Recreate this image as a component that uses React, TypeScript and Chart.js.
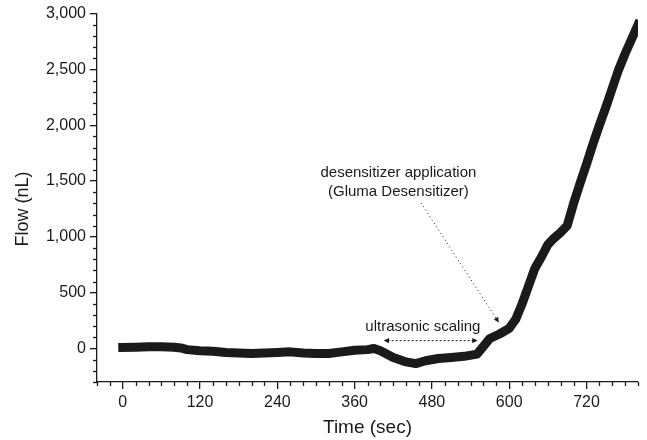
import React, { useEffect, useRef } from "react";
import { Chart, registerables } from "chart.js";

Chart.register(...registerables);

const times = [0, 20, 40, 60, 80, 90, 100, 120, 140, 160, 180, 200, 220, 240, 260, 280, 300, 320, 340, 360, 380, 390, 400, 420, 440, 455, 470, 490, 510, 530, 550, 560, 570, 585, 600, 610, 620, 630, 640, 650, 660, 670, 680, 690, 700, 710, 720, 730, 740, 750, 760, 770, 780, 790, 800];
const flow = [10, 12, 15, 15, 12, 5, -10, -20, -25, -35, -40, -45, -40, -35, -30, -40, -45, -45, -30, -15, -10, 0, -20, -80, -120, -135, -110, -90, -80, -70, -50, 20, 90, 130, 180, 260, 400, 560, 720, 820, 930, 990, 1040, 1100, 1300, 1480, 1650, 1830, 2000, 2160, 2330, 2500, 2640, 2770, 2900];

const xMajorTicks = [0, 120, 240, 360, 480, 600, 720];
const yMajorTicks = [0, 500, 1000, 1500, 2000, 2500, 3000];
const xRange = [-40, 800];
const yRange = [-300, 3000];

const yTitle = { text: "Flow (nL)", value: 1250 };
const annoScaling = { text: "ultrasonic scaling", x: 466, y: 196, arrowFrom: 405, arrowTo: 551, arrowY: 71 };
const annoDesens = { lines: ["desensitizer application", "(Gluma Desensitizer)"], x: 428, y: [1571, 1402], from: [463, 1304], to: [584, 232] };

const FONT = "'Liberation Sans', Arial, sans-serif";
const INK = "#1a1a1a";

function arrowHead(ctx: CanvasRenderingContext2D, x1: number, y1: number, x2: number, y2: number, size: number) {
  const a = Math.atan2(y2 - y1, x2 - x1);
  ctx.beginPath();
  ctx.moveTo(x2, y2);
  ctx.lineTo(x2 - size * Math.cos(a - 0.45), y2 - size * Math.sin(a - 0.45));
  ctx.lineTo(x2 - size * Math.cos(a + 0.45), y2 - size * Math.sin(a + 0.45));
  ctx.closePath();
  ctx.fill();
}

const decorPlugin = {
  id: "decor",
  afterDraw(chart: any) {
    const ctx = chart.ctx as CanvasRenderingContext2D;
    const xs = chart.scales.x;
    const ys = chart.scales.y;
    const area = chart.chartArea;
    ctx.save();
    ctx.strokeStyle = INK;
    ctx.lineWidth = 1.3;
    // minor ticks
    for (let v = xRange[0]; v <= xRange[1]; v += 20) {
      if (xMajorTicks.includes(v)) continue;
      const px = Math.round(xs.getPixelForValue(v)) + 0.5;
      ctx.beginPath();
      ctx.moveTo(px, area.bottom);
      ctx.lineTo(px, area.bottom + 4);
      ctx.stroke();
    }
    for (let v = yRange[0]; v <= yRange[1]; v += 100) {
      if (yMajorTicks.includes(v)) continue;
      const py = Math.round(ys.getPixelForValue(v)) + 0.5;
      ctx.beginPath();
      ctx.moveTo(area.left, py);
      ctx.lineTo(area.left - 4, py);
      ctx.stroke();
    }
    ctx.fillStyle = INK;
    ctx.textAlign = "center";
    ctx.textBaseline = "middle";
    // y title
    ctx.save();
    ctx.font = `18px ${FONT}`;
    ctx.translate(23, ys.getPixelForValue(yTitle.value));
    ctx.rotate(-Math.PI / 2);
    ctx.fillText(yTitle.text, 0, 0);
    ctx.restore();
    // annotations
    ctx.font = `15px ${FONT}`;
    ctx.fillText(annoScaling.text, xs.getPixelForValue(annoScaling.x), ys.getPixelForValue(annoScaling.y));
    annoDesens.lines.forEach((l, i) => {
      ctx.fillText(l, xs.getPixelForValue(annoDesens.x), ys.getPixelForValue(annoDesens.y[i]));
    });
    // double arrow
    const ax1 = xs.getPixelForValue(annoScaling.arrowFrom);
    const ax2 = xs.getPixelForValue(annoScaling.arrowTo);
    const ay = ys.getPixelForValue(annoScaling.arrowY);
    ctx.lineWidth = 1;
    ctx.setLineDash([2, 2]);
    ctx.beginPath();
    ctx.moveTo(ax1 + 4, ay);
    ctx.lineTo(ax2 - 4, ay);
    ctx.stroke();
    ctx.setLineDash([]);
    arrowHead(ctx, ax2, ay, ax1, ay, 6);
    arrowHead(ctx, ax1, ay, ax2, ay, 6);
    // dotted arrow
    const dx1 = xs.getPixelForValue(annoDesens.from[0]);
    const dy1 = ys.getPixelForValue(annoDesens.from[1]);
    const dx2 = xs.getPixelForValue(annoDesens.to[0]);
    const dy2 = ys.getPixelForValue(annoDesens.to[1]);
    ctx.setLineDash([1, 3]);
    ctx.beginPath();
    ctx.moveTo(dx1, dy1);
    ctx.lineTo(dx2, dy2);
    ctx.stroke();
    ctx.setLineDash([]);
    arrowHead(ctx, dx1, dy1, dx2, dy2, 6);
    ctx.restore();
  },
};

export default function App() {
  const ref = useRef<HTMLCanvasElement>(null);
  useEffect(() => {
    if (!ref.current) return;
    const chart = new Chart(ref.current, {
      type: "line",
      data: {
        datasets: [
          {
            data: times.map((t, i) => ({ x: t, y: flow[i] })),
            borderColor: INK,
            borderWidth: 9,
            pointRadius: 0,
            tension: 0,
            borderJoinStyle: "round",
            borderCapStyle: "square",
            fill: false,
          },
        ],
      },
      options: {
        animation: false,
        responsive: false,
        maintainAspectRatio: false,
        layout: { padding: { top: 12, right: 9, left: 0, bottom: 0 } },
        plugins: { legend: { display: false }, tooltip: { enabled: false } },
        scales: {
          x: {
            type: "linear",
            min: xRange[0],
            max: xRange[1],
            afterBuildTicks: (s: any) => {
              s.ticks = xMajorTicks.map((v) => ({ value: v }));
            },
            afterFit: (s: any) => {
              s.height = 58;
            },
            border: { display: true, color: INK, width: 1.3 },
            grid: { drawOnChartArea: false, drawTicks: true, tickLength: 7, color: INK, lineWidth: 1.3 },
            ticks: { color: INK, font: { family: FONT, size: 16 }, padding: 4, autoSkip: false, maxRotation: 0, callback: (v: any) => String(v) },
            title: { display: true, text: "Time (sec)", color: INK, font: { family: FONT, size: 19 }, padding: { top: 0, bottom: 1 } },
          },
          y: {
            type: "linear",
            min: yRange[0],
            max: yRange[1],
            afterBuildTicks: (s: any) => {
              s.ticks = yMajorTicks.map((v) => ({ value: v }));
            },
            afterFit: (s: any) => {
              s.width = 97;
            },
            border: { display: true, color: INK, width: 1.3 },
            grid: { drawOnChartArea: false, drawTicks: true, tickLength: 7, color: INK, lineWidth: 1.3 },
            ticks: { color: INK, font: { family: FONT, size: 16 }, padding: 4, autoSkip: false, callback: (v: any) => Number(v).toLocaleString("en-US") },
            title: { display: false },
          },
        },
      },
      plugins: [decorPlugin],
    });
    return () => chart.destroy();
  }, []);
  return (
    <div style={{ position: "absolute", left: 0, top: 0, width: 647, height: 440, background: "#fff" }}>
      <canvas ref={ref} width={647} height={440} style={{ width: 647, height: 440 }} />
    </div>
  );
}
